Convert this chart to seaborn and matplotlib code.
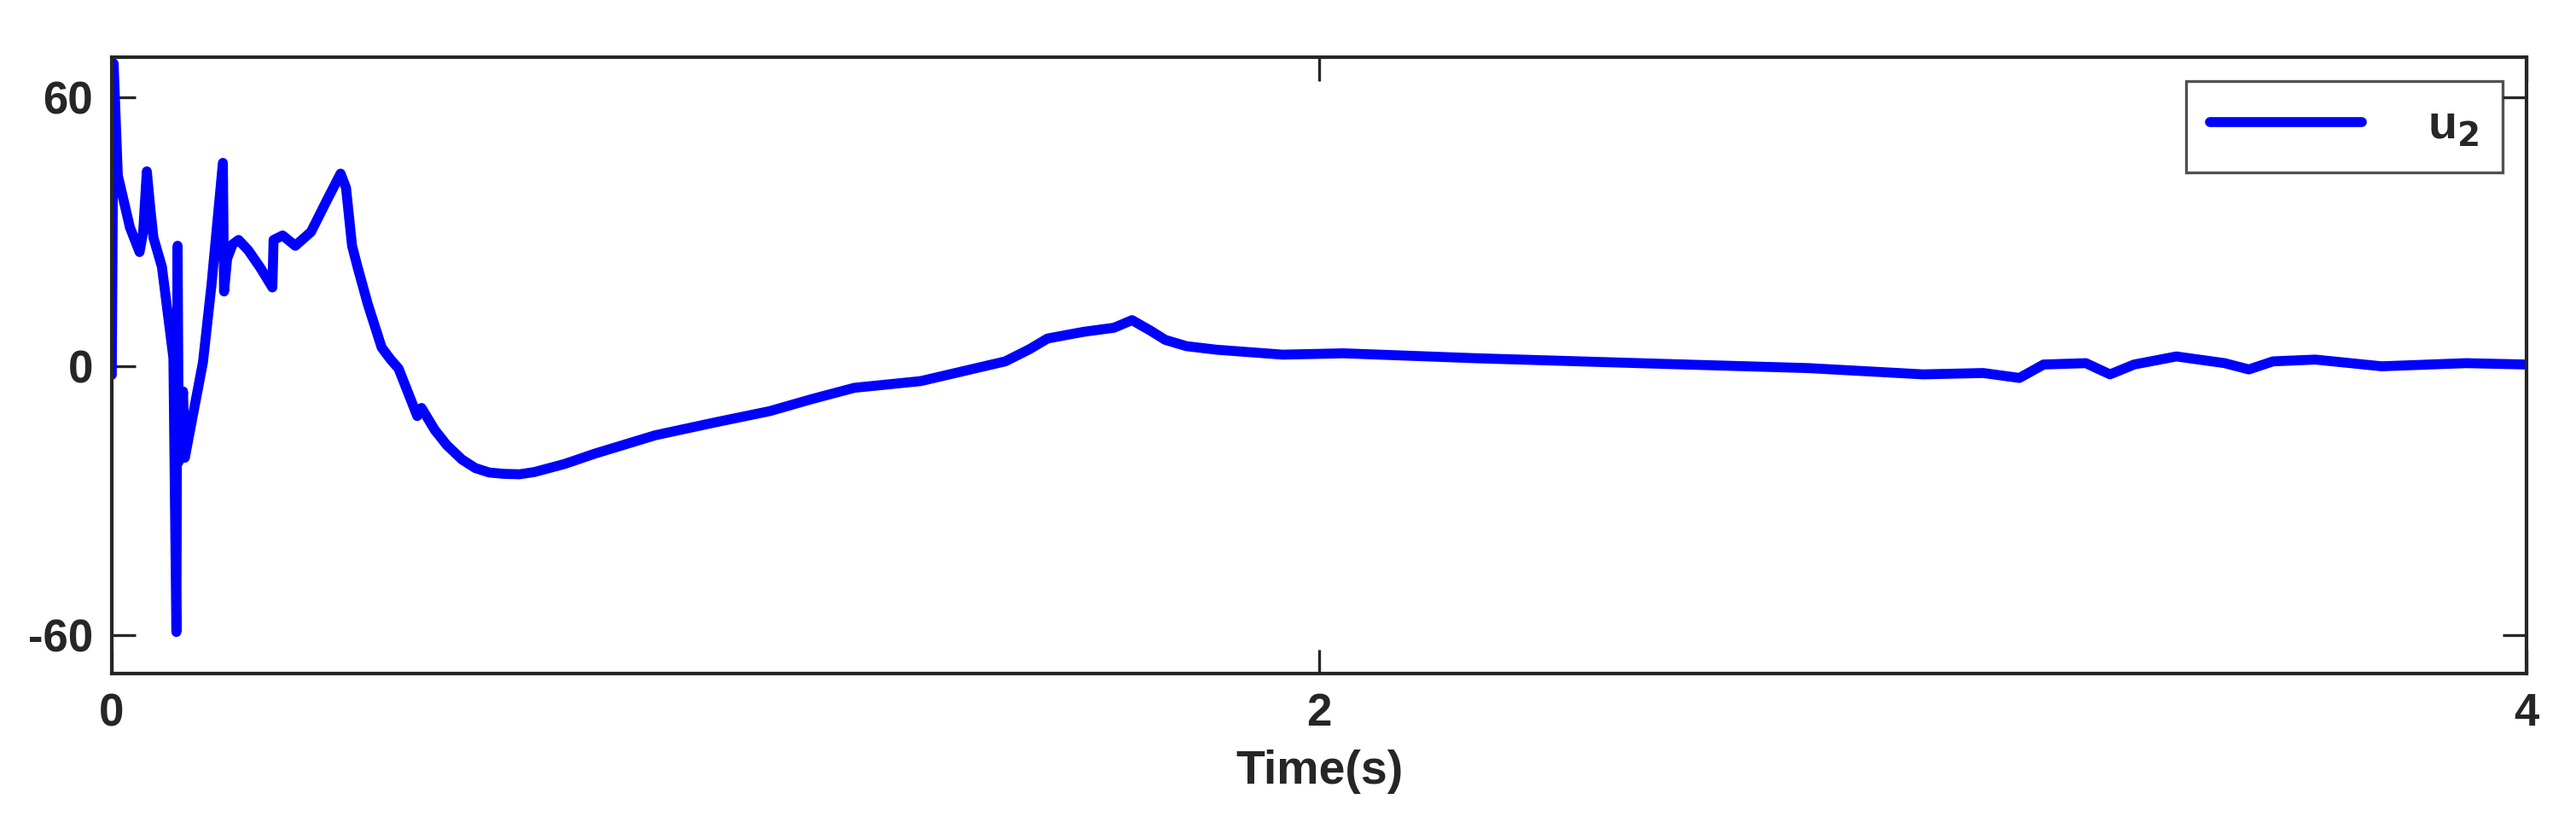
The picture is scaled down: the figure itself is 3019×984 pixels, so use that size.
import matplotlib
matplotlib.use("Agg")
import matplotlib.pyplot as plt
import seaborn as sns
import pandas as pd

t = [0.0, 0.003, 0.010, 0.030, 0.046, 0.052, 0.058, 0.064, 0.069, 0.083, 0.102, 0.107, 0.109, 0.111,
     0.118, 0.121, 0.151, 0.165, 0.184, 0.186, 0.191, 0.200, 0.210, 0.226, 0.246, 0.266, 0.268,
     0.283, 0.304, 0.330, 0.358, 0.379, 0.388, 0.398, 0.407, 0.424, 0.447, 0.462, 0.475, 0.506,
     0.513, 0.535, 0.555, 0.580, 0.602, 0.625, 0.649, 0.675, 0.70, 0.75, 0.80, 0.90, 1.00, 1.09,
     1.16, 1.23, 1.34, 1.48, 1.52, 1.55, 1.61, 1.66, 1.69, 1.72, 1.745, 1.78, 1.83, 1.94, 2.04,
     2.26, 2.53, 2.81, 3.00, 3.10, 3.16, 3.20, 3.27, 3.31, 3.35, 3.42, 3.50, 3.54, 3.58, 3.65,
     3.76, 3.90, 4.00]
u2 = [-1.9, 67.6, 42.6, 31.0, 25.5, 30.0, 43.5, 35.0, 28.7, 22.2, 1.9, -59.3, 26.9, -21.3,
      -5.6, -20.4, 0.9, 18.0, 45.4, 16.7, 24.0, 27.2, 28.2, 25.9, 22.0, 17.6, 28.2,
      29.2, 26.9, 30.0, 37.5, 43.0, 39.8, 26.9, 22.2, 13.9, 4.2, 1.5, -0.5, -11.1,
      -9.3, -14.2, -17.6, -20.8, -22.7, -23.7, -24.0, -24.1, -23.6, -21.8, -19.5, -15.4, -12.5, -10.0,
      -7.3, -4.8, -3.3, 1.1, 3.8, 6.2, 7.7, 8.6, 10.3, 8.0, 5.9, 4.5, 3.7, 2.6, 2.9,
      1.8, 0.7, -0.4, -1.8, -1.5, -2.6, 0.4, 0.7, -1.8, 0.4, 2.2, 0.7, -0.7, 1.1, 1.5,
      0.0, 0.7, 0.4]

df = pd.DataFrame({"Time": t, "u2": u2})

sns.set_style("white")
plt.rcParams['font.family'] = ['Liberation Sans', 'DejaVu Sans']
plt.rcParams['font.weight'] = 'bold'
plt.rcParams['axes.unicode_minus'] = False
plt.rcParams['mathtext.default'] = 'bf'

fig = plt.figure(figsize=(15.095, 4.92), dpi=200)
ax = fig.add_axes([0.0434, 0.198, 0.9374, 0.734])
sns.lineplot(x="Time", y="u2", data=df, color='#0000ff', linewidth=4.2, ax=ax,
             label='u$_{2}$')

ax.set_xlim(0, 4)
ax.set_ylim(-68.6, 69)
ax.set_xticks([0, 2, 4])
ax.set_yticks([-60, 0, 60])
ax.tick_params(direction='in', length=10, width=1.2, top=True, right=True, bottom=True,
               left=True, labelsize=19, pad=8)
for lab in ax.get_xticklabels() + ax.get_yticklabels():
    lab.set_fontweight('bold')
for s in ax.spines.values():
    s.set_linewidth(1.5)
    s.set_color('#262626')
ax.set_xlabel('Time(s)', fontsize=20, fontweight='bold', labelpad=6)
ax.set_ylabel('')
leg = ax.legend(loc='upper right', fontsize=20, frameon=True, fancybox=False,
                edgecolor='#262626', handlelength=3.2, handletextpad=1.4,
                borderaxespad=0.5, borderpad=0.5)
leg.get_frame().set_linewidth(1.2)

fig.savefig('out.png', dpi=200)
